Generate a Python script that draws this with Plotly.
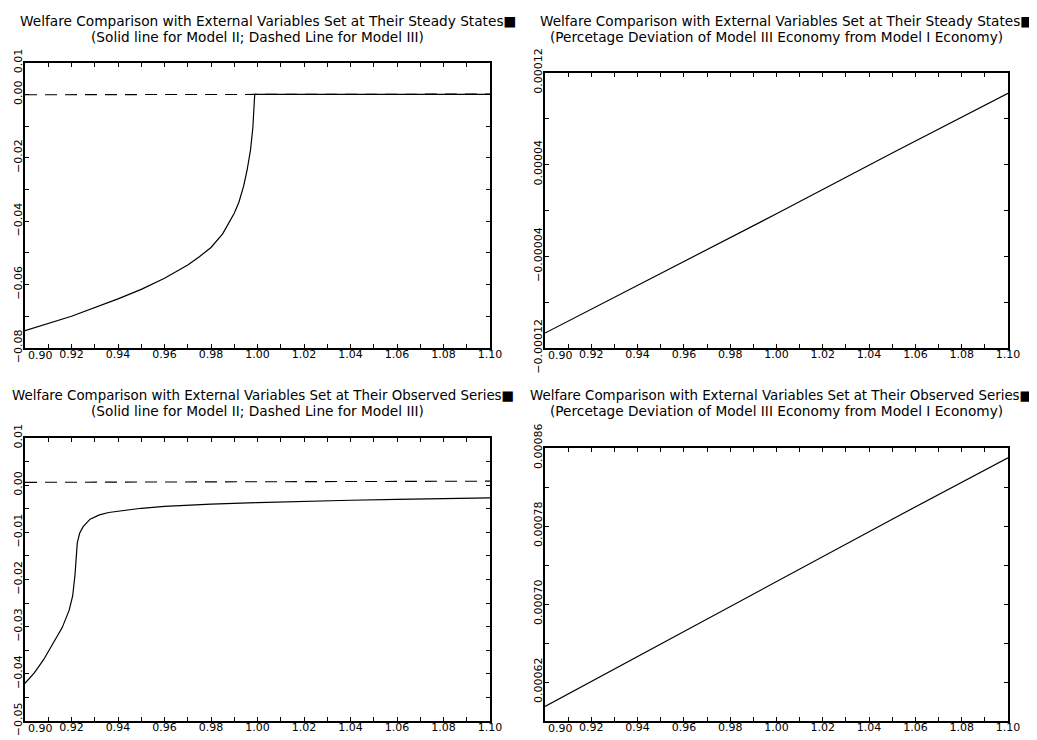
import plotly.graph_objects as go

# ---------------- data ----------------
# Top-left: Model II (solid), steady-state externals
x_tl_m2 = [0.900, 0.920, 0.940, 0.950, 0.960, 0.970, 0.975, 0.980, 0.985, 0.990,
           0.992, 0.994, 0.9955, 0.997, 0.998, 0.9985, 0.9988, 1.000, 1.050, 1.100]
y_tl_m2 = [-0.0745, -0.0700, -0.0645, -0.0615, -0.0580, -0.0538, -0.0512, -0.0483, -0.0440, -0.0375,
           -0.0340, -0.0290, -0.0240, -0.0175, -0.0105, -0.0050, 0.0000, 0.0000, 0.0000, 0.0000]

# Model III deviation (dashed on the left, solid on the right), steady-state externals
x_lin = [0.90, 0.95, 1.00, 1.05, 1.10]
y_ss_m3 = [-0.000107, -0.000055, -0.000003, 0.000050, 0.000102]

# Bottom-left: Model II (solid), observed externals
x_bl_m2 = [0.900, 0.904, 0.908, 0.912, 0.916, 0.919, 0.9205, 0.9215, 0.922, 0.9225,
           0.9235, 0.925, 0.928, 0.932, 0.936, 0.940, 0.950, 0.960, 0.980, 1.000,
           1.020, 1.040, 1.060, 1.080, 1.100]
y_bl_m2 = [-0.0420, -0.0398, -0.0370, -0.0336, -0.0302, -0.0265, -0.0235, -0.0190, -0.0150, -0.0122,
           -0.0102, -0.0088, -0.0072, -0.0063, -0.0058, -0.0055, -0.0049, -0.0045, -0.0040, -0.0037,
           -0.0034, -0.0032, -0.0030, -0.0028, -0.0027]

# Model III deviation, observed externals
y_obs_m3 = [0.000595, 0.000659, 0.000723, 0.000787, 0.000850]

# ---------------- ticks ----------------
x_tick_vals = [0.90, 0.91, 0.92, 0.93, 0.94, 0.95, 0.96, 0.97, 0.98, 0.99, 1.00,
               1.01, 1.02, 1.03, 1.04, 1.05, 1.06, 1.07, 1.08, 1.09, 1.10]
x_tick_text = ["", "", "0.92", "", "0.94", "", "0.96", "", "0.98", "", "1.00",
               "", "1.02", "", "1.04", "", "1.06", "", "1.08", "", "1.10"]
x_first_label = "0.90"   # drawn nudged right of its tick, as in the reference

tl_y_vals = [0.01, 0.00, -0.01, -0.02, -0.03, -0.04, -0.05, -0.06, -0.07, -0.08]
tl_y_text = ["0.01", "0.00", "", "\u22120.02", "", "\u22120.04", "", "\u22120.06", "", "\u22120.08"]

tr_y_vals = [0.00012, 0.00008, 0.00004, 0.0, -0.00004, -0.00008, -0.00012]
tr_y_text = ["0.00012", "", "0.00004", "", "\u22120.00004", "", "\u22120.00012"]

bl_y_vals = [0.01, 0.005, 0.0, -0.005, -0.01, -0.015, -0.02, -0.025, -0.03, -0.035, -0.04, -0.045, -0.05]
bl_y_text = ["0.01", "", "0.00", "", "\u22120.01", "", "\u22120.02", "", "\u22120.03", "", "\u22120.04", "", "\u22120.05"]

br_y_vals = [0.00086, 0.00082, 0.00078, 0.00074, 0.00070, 0.00066, 0.00062, 0.00058]
br_y_text = ["0.00086", "", "0.00078", "", "0.00070", "", "0.00062", ""]

titles = [
    ("Welfare Comparison with External Variables Set at Their Steady States\u25a0",
     "(Solid line for Model II; Dashed Line for Model III)"),
    ("Welfare Comparison with External Variables Set at Their Steady States\u25a0",
     "(Percetage Deviation of Model III Economy from Model I Economy)"),
    ("Welfare Comparison with External Variables Set at Their Observed Series\u25a0",
     "(Solid line for Model II; Dashed Line for Model III)"),
    ("Welfare Comparison with External Variables Set at Their Observed Series\u25a0",
     "(Percetage Deviation of Model III Economy from Model I Economy)"),
]

# ---------------- layout geometry (window pixels) ----------------
OFF = 8                      # default body margin of the page
W, H = 1037 - OFF, 740 - OFF  # figure size so that it ends at the window edge
FONT = "DejaVu Sans"


def px_x(p):
    return (p - OFF) / W


def px_y(p):
    return 1 - (p - OFF) / H


def dx(a, b):
    return [px_x(a), px_x(b)]


def dy(top, bottom):
    return [px_y(bottom), px_y(top)]


panels = [
    # (xaxis, yaxis, x px, y px, yrange, yticks, ytext, title1 left px, title1 size, title y px)
    ("x", "y", (25, 490), (62.7, 348), [-0.08, 0.01], tl_y_vals, tl_y_text, 18, 13.7, 20.7),
    ("x2", "y2", (545, 1008), (72.7, 348), [-0.00012, 0.00012], tr_y_vals, tr_y_text, 538, 13.6, 20.7),
    ("x3", "y3", (25, 490), (438, 721), [-0.05, 0.01], bl_y_vals, bl_y_text, 10, 13.4, 395),
    ("x4", "y4", (545, 1008), (448, 721), [0.00058, 0.00086], br_y_vals, br_y_text, 528, 13.4, 395),
]

fig = go.Figure()
solid = dict(color="black", width=1.2)
dashed = dict(color="black", width=1.1, dash="12px,8px")

fig.add_trace(go.Scatter(x=x_tl_m2, y=y_tl_m2, mode="lines", line=solid, xaxis="x", yaxis="y"))
fig.add_trace(go.Scatter(x=x_lin, y=y_ss_m3, mode="lines", line=dashed, xaxis="x", yaxis="y"))
fig.add_trace(go.Scatter(x=x_lin, y=y_ss_m3, mode="lines", line=solid, xaxis="x2", yaxis="y2"))
fig.add_trace(go.Scatter(x=x_bl_m2, y=y_bl_m2, mode="lines", line=solid, xaxis="x3", yaxis="y3"))
fig.add_trace(go.Scatter(x=x_lin, y=y_obs_m3, mode="lines", line=dashed, xaxis="x3", yaxis="y3"))
fig.add_trace(go.Scatter(x=x_lin, y=y_obs_m3, mode="lines", line=solid, xaxis="x4", yaxis="y4"))

layout = dict(
    template="none",
    width=W, height=H, margin=dict(l=0, r=0, t=0, b=0, autoexpand=False),
    paper_bgcolor="white", plot_bgcolor="white", showlegend=False,
    font=dict(family=FONT, color="black", size=11),
)

axis_common = dict(
    showline=True, linewidth=2, linecolor="black", mirror="ticks",
    ticks="inside", ticklen=4, tickwidth=1, tickcolor="black",
    showgrid=False, zeroline=False, tickmode="array", automargin=False,
    ticklabeloverflow="allow",
    tickfont=dict(family=FONT, size=11, color="black"),
)

annotations = []
for i, (xa, ya, xpx, ypx, yr, yv, yt, t_left, t_size, base) in enumerate(panels):
    xk = "xaxis" + xa[1:]
    yk = "yaxis" + ya[1:]
    layout[xk] = dict(axis_common, domain=dx(*xpx), range=[0.90, 1.10], anchor=ya,
                      tickvals=x_tick_vals, ticktext=x_tick_text, ticklabelstandoff=-5)
    layout[yk] = dict(axis_common, domain=dy(*ypx), range=yr, anchor=xa,
                      tickvals=yv, ticktext=yt, tickangle=-90, ticklabelstandoff=-3)
    cx = (xpx[0] + xpx[1]) / 2
    line1, line2 = titles[i]
    annotations.append(dict(text=line1, x=px_x(t_left), y=px_y(base), xref="paper", yref="paper",
                            xanchor="left", yanchor="middle", showarrow=False,
                            font=dict(family=FONT, size=t_size, color="black")))
    annotations.append(dict(text=line2, x=px_x(cx), y=px_y(base + 16.3), xref="paper", yref="paper",
                            xanchor="center", yanchor="middle", showarrow=False,
                            font=dict(family=FONT, size=13.7, color="black")))
    # first x tick label, nudged to the right of the corner like the reference
    annotations.append(dict(text=x_first_label, x=x_tick_vals[0], xref=xa, xshift=1,
                            y=px_y(ypx[1] + 7.5), yref="paper",
                            xanchor="left", yanchor="middle", showarrow=False,
                            font=dict(family=FONT, size=11, color="black")))

layout["annotations"] = annotations
fig.update_layout(**layout)

fig.write_html("out.html")
